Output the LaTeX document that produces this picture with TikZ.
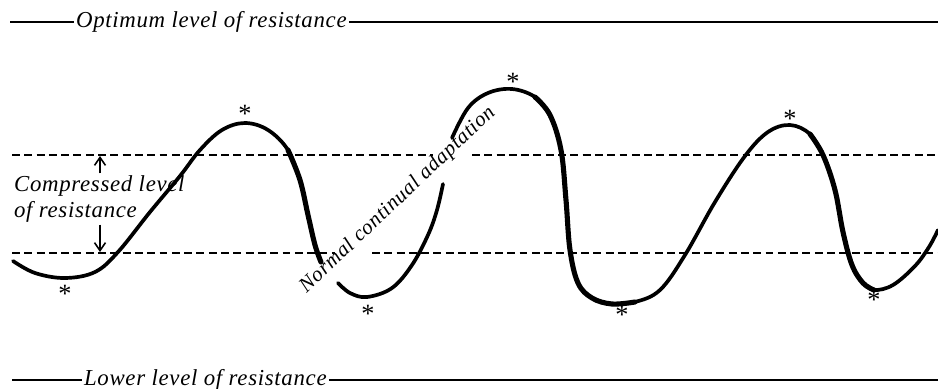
\documentclass[tikz,border=0pt]{standalone}
\usepackage{fontspec}
\setmainfont{Liberation Serif}
\newfontfamily\lblfont[LetterSpace=3]{Liberation Serif}
\usetikzlibrary{arrows.meta,positioning}
\tikzset{
  lvl/.style   = {draw=black, line width=0.6pt},
  dsh/.style   = {draw=black, line width=0.8pt, dash pattern=on 4.5pt off 2.5pt},
  crv/.style   = {draw=black, line width=2.1pt, line cap=round, line join=round},
  crvb/.style  = {draw=black, line width=2.9pt, line cap=round, line join=round},
  lbl/.style   = {font=\lblfont\itshape\fontsize{13}{15}\selectfont, inner sep=1pt},
  star/.style  = {font=\fontsize{15}{15}\selectfont, inner sep=0pt},
  ar/.style    = {-{Straight Barb[length=1.6mm,width=2.2mm]}, line width=0.9pt},
}
\begin{document}
\begin{tikzpicture}[x=0.02cm, y=-0.02cm]
  \useasboundingbox (0,0) rectangle (938,389);
  % level lines
  \node[lbl, anchor=west] (optimum) at (74,22) {Optimum level of resistance};
  \node[lbl, anchor=west] (lower) at (82,380) {Lower level of resistance};
  \draw[lvl] (10,22) -- (optimum.west);
  \draw[lvl] (optimum.east) -- (938,22);
  \draw[lvl] (12,380) -- (lower.west);
  \draw[lvl] (lower.east) -- (938,380);
  % compressed band
  \draw[dsh] (12,155) -- (433,155);
  \draw[dsh] (472,155) -- (938,155);
  \draw[dsh] (12,253) -- (335,253);
  \draw[dsh] (372,253) -- (938,253);
  \node[lbl, anchor=west, align=left] (compressed) at (12,199) {Compressed level\\of resistance};
  \coordinate (bandtop) at (100,156);
  \coordinate (bandbot) at (100,252);
  \draw[ar] (compressed.north -| bandtop) -- (bandtop);
  \draw[ar] (compressed.south -| bandbot) -- (bandbot);
  % resistance curve
  \draw[crv] plot[smooth, tension=0.6] coordinates {(13,261) (35,273) (65,278) (95,272) (118,252)
    (150,212) (180,176) (200,150) (222,130) (245,123) (268,130) (288,150) (300,180)};
  \draw[crvb] plot[smooth, tension=0.6] coordinates {(288,150) (300,180) (308,215) (315,245) (321,262)};
  \draw[crv] plot[smooth, tension=0.6] coordinates {(338,283) (350,293) (367,297) (392,288)
    (412,265) (428,235) (437,210) (443,184)};
  \draw[crv] plot[smooth, tension=0.6] coordinates {(452,138) (468,108) (488,93) (512,89)
    (535,97) (550,115)};
  \draw[crvb] plot[smooth, tension=0.6] coordinates {(535,97) (550,115) (561,150) (566,200)
    (570,250) (578,283) (592,298) (612,304) (635,302)};
  \draw[crv] plot[smooth, tension=0.6] coordinates {(612,304) (635,302) (660,290) (685,255)
    (715,202) (745,156) (768,132) (790,125) (810,134) (823,155)};
  \draw[crvb] plot[smooth, tension=0.6] coordinates {(810,134) (823,155) (835,190) (843,232)
    (852,265) (863,283) (874,290)};
  \draw[crv] plot[smooth, tension=0.6] coordinates {(863,283) (874,290) (893,285) (915,266)
    (929,247) (938,230)};
  \node[lbl, font=\lblfont\itshape\fontsize{12}{14}\selectfont, rotate=43.5, anchor=base west]
    (normal) at (305,295) {Normal continual adaptation};
  % turning points
  \foreach \px/\py [count=\k] in {65/294, 245/114, 368/314, 513/82, 622/315, 790/119, 874/300}
    \node[star] (turn\k) at (\px,\py) {*};
\end{tikzpicture}
\end{document}
